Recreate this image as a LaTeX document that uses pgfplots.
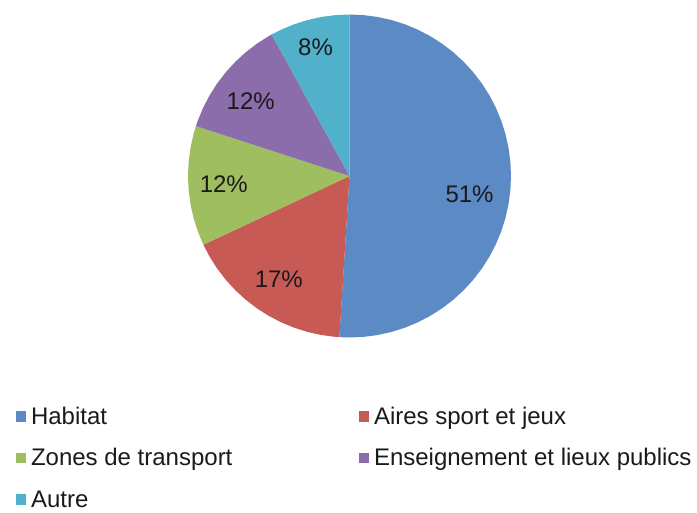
\documentclass[border=0pt]{standalone}
\usepackage{pgfplots}
\pgfplotsset{compat=1.18}
\usepackage{fontspec}
\setmainfont{Liberation Sans}
\definecolor{cHab}{HTML}{5B8AC5}
\definecolor{cAir}{HTML}{C75A55}
\definecolor{cZon}{HTML}{9FBE5F}
\definecolor{cEns}{HTML}{8B6DAB}
\definecolor{cAut}{HTML}{52B1CA}
\definecolor{txt}{HTML}{1A1A1A}
\newcommand{\chfont}{\fontsize{24bp}{28bp}\selectfont}
% Shares (%): Habitat 51, Aires sport et jeux 17, Zones de transport 12,
% Enseignement et lieux publics 12, Autre 8 -- clockwise from 12 o'clock.
% Slices are given in polar data coordinates (angle in degrees, radius).
\begin{document}
\begin{tikzpicture}
\begin{axis}[
  x=161.5bp, y=161.5bp,
  xmin=-2.1641, xmax=2.1517, ymin=-2.0805, ymax=1.0898,
  hide axis, clip=false,
  data cs=polar,
  legend columns=2,
  legend cell align=left,
  legend image code/.code={\fill[#1] (0bp,-3bp) rectangle (10bp,7bp);},
  legend style={at={(0.02296,0.2051)}, anchor=north west, draw=none, fill=none,
    inner sep=0pt, outer sep=0pt, font=\chfont, text=txt,
    row sep=18.5bp,
    nodes={inner sep=0pt, text height=17bp, text depth=6bp},
    /tikz/every odd column/.append style={column sep=5bp},
    /tikz/every even column/.append style={column sep=0pt}},
]
\path (rel axis cs:0,0) rectangle (rel axis cs:1,1);
% Habitat 51%
\addplot[fill=cHab, draw=none] coordinates {
 (0,0) (90,1) (85,1) (80,1) (75,1) (70,1) (65,1) (60,1) (55,1) (50,1) (45,1)
 (40,1) (35,1) (30,1) (25,1) (20,1) (15,1) (10,1) (5,1) (0,1) (-5,1) (-10,1)
 (-15,1) (-20,1) (-25,1) (-30,1) (-35,1) (-40,1) (-45,1) (-50,1) (-55,1)
 (-60,1) (-65,1) (-70,1) (-75,1) (-80,1) (-85,1) (-90,1) (-93.6,1) (0,0)};
\addlegendentry{\makebox[328bp][l]{Habitat}}
% Aires sport et jeux 17%
\addplot[fill=cAir, draw=none] coordinates {
 (0,0) (-93.6,1) (-95,1) (-100,1) (-105,1) (-110,1) (-115,1) (-120,1) (-125,1)
 (-130,1) (-135,1) (-140,1) (-145,1) (-150,1) (-154.8,1) (0,0)};
\addlegendentry{Aires sport et jeux}
% Zones de transport 12%
\addplot[fill=cZon, draw=none] coordinates {
 (0,0) (-154.8,1) (-155,1) (-160,1) (-165,1) (-170,1) (-175,1) (-180,1)
 (-185,1) (-190,1) (-195,1) (-198,1) (0,0)};
\addlegendentry{\makebox[328bp][l]{Zones de transport}}
% Enseignement et lieux publics 12%
\addplot[fill=cEns, draw=none] coordinates {
 (0,0) (-198,1) (-200,1) (-205,1) (-210,1) (-215,1) (-220,1) (-225,1)
 (-230,1) (-235,1) (-240,1) (-241.2,1) (0,0)};
\addlegendentry{Enseignement et lieux publics}
% Autre 8%
\addplot[fill=cAut, draw=none] coordinates {
 (0,0) (-241.2,1) (-245,1) (-250,1) (-255,1) (-260,1) (-265,1) (-270,1) (0,0)};
\addlegendentry{\makebox[328bp][l]{Autre}}
% data labels
\addplot[forget plot, only marks, mark=none, nodes near coords,
  point meta=explicit symbolic,
  every node near coord/.append style={anchor=center, inner sep=0pt,
    font=\chfont, text=txt}] coordinates {
 (-8.7,0.752) [51\%] (-124.3,0.777) [17\%] (-176.5,0.78) [12\%]
 (-217,0.766) [12\%] (-255.2,0.823) [8\%]};
\end{axis}
\end{tikzpicture}
\end{document}
